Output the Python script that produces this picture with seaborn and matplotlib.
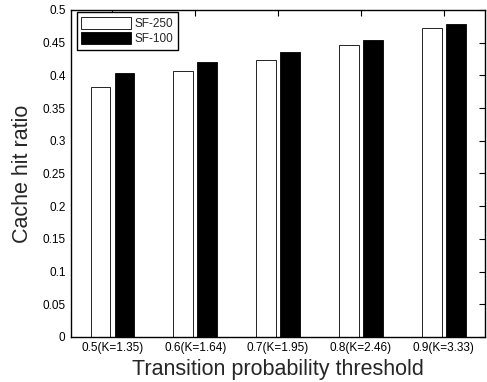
import matplotlib
matplotlib.use("Agg")
import matplotlib.pyplot as plt
import seaborn as sns
import pandas as pd
import numpy as np

thresholds = ['0.5(K=1.35)', '0.6(K=1.64)', '0.7(K=1.95)', '0.8(K=2.46)', '0.9(K=3.33)']
sf250 = [0.382, 0.406, 0.424, 0.447, 0.472]
sf100 = [0.404, 0.420, 0.436, 0.454, 0.478]
series = ['SF-250', 'SF-100']
yticks = [0, 0.05, 0.1, 0.15, 0.2, 0.25, 0.3, 0.35, 0.4, 0.45, 0.5]

df = pd.DataFrame({
    'threshold': thresholds * 2,
    'ratio': sf250 + sf100,
    'series': [series[0]] * len(thresholds) + [series[1]] * len(thresholds),
})

sns.set_style('white')
plt.rcParams['font.family'] = ['Liberation Sans', 'DejaVu Sans']

fig = plt.figure(figsize=(4.87, 3.82), dpi=100)
ax = fig.add_axes([0.146, 0.118, 0.85, 0.856])

sns.barplot(data=df, x='threshold', y='ratio', hue='series', order=thresholds,
            hue_order=series, palette={'SF-250': 'white', 'SF-100': 'black'},
            width=0.58, gap=0.17, edgecolor='black', linewidth=0.6, ax=ax)

ax.set_ylim(0, 0.5)
ax.set_xlim(-0.5, len(thresholds) - 0.5)
ax.set_yticks(yticks)
ax.set_yticklabels(['0' if v == 0 else ('%g' % v) for v in yticks])
ax.tick_params(axis='both', direction='in', length=4, width=0.8, labelsize=8.5,
               top=True, right=True, colors='black', pad=4)
for s in ax.spines.values():
    s.set_visible(True)
    s.set_color('black')
    s.set_linewidth(1.0)

ax.set_xlabel('Transition probability threshold', fontsize=15.5, labelpad=3)
ax.set_ylabel('Cache hit ratio', fontsize=15.5, labelpad=7)

leg = ax.legend(loc='upper left', bbox_to_anchor=(0.008, 1.0), fontsize=8.5,
                fancybox=False, edgecolor='black', framealpha=1,
                handlelength=4.2, handleheight=1.2, borderpad=0.4,
                labelspacing=0.15, handletextpad=0.25, borderaxespad=0.2)
leg.get_frame().set_linewidth(1.0)

fig.savefig('out.png', dpi=100)
